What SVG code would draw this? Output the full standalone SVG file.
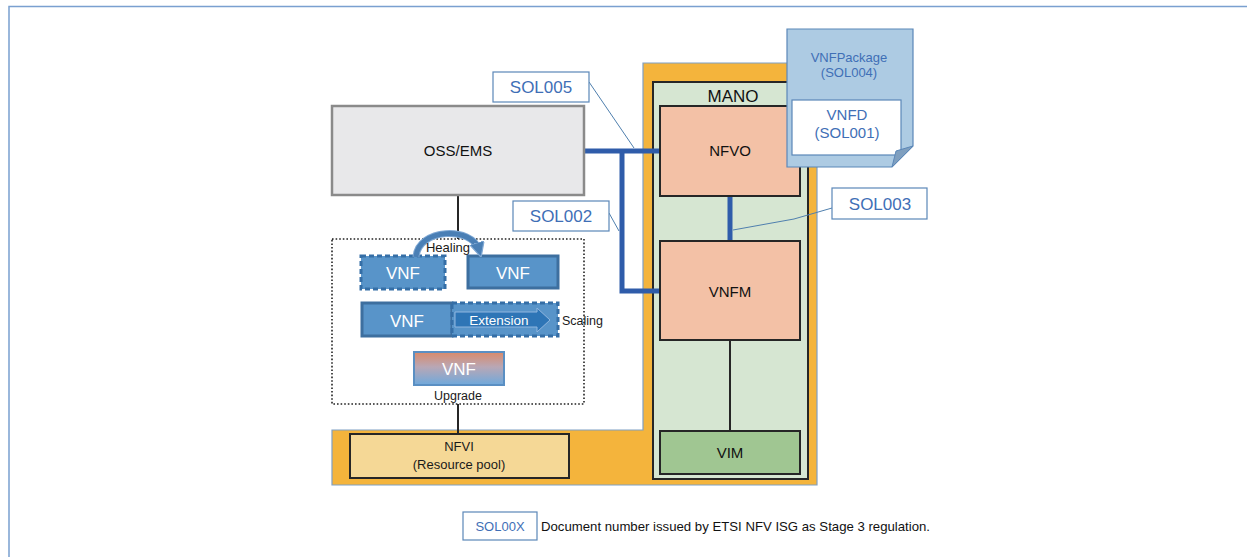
<svg xmlns="http://www.w3.org/2000/svg" width="1247" height="557" viewBox="0 0 1247 557">
<defs>
<linearGradient id="upg" x1="0" y1="0" x2="0" y2="1">
<stop offset="0" stop-color="#d98a6a"/>
<stop offset="0.45" stop-color="#b9a7b5"/>
<stop offset="1" stop-color="#6fa9dc"/>
</linearGradient>
<marker id="heal" viewBox="0 0 10 10" refX="5" refY="5" markerWidth="3" markerHeight="3" orient="auto" markerUnits="strokeWidth">
<path d="M0,0 L10,5 L0,10 z" fill="#4a7fb5" stroke="#7fa8d4" stroke-width="0.8"/>
</marker>
<style>
text{font-family:"Liberation Sans",Arial,sans-serif;}
.blk{stroke:#262626;stroke-width:2;}
.sol{fill:#ffffff;stroke:#5b87b8;stroke-width:1.2;}
.soltx{fill:#3f6fb6;font-size:17px;text-anchor:middle;}
.vnf{fill:#5894c9;stroke:#3d6f9f;stroke-width:3;}
.vnfd{fill:#5894c9;stroke:#356ea6;stroke-width:3;stroke-dasharray:5,3;}
.vnftx{fill:#ffffff;font-size:17px;text-anchor:middle;}
.lbl{fill:#1a1a1a;font-size:12.5px;text-anchor:middle;}
.bus{stroke:#2f5caa;stroke-width:5;fill:none;}
.lead{stroke:#4f7fae;stroke-width:1;fill:none;}
.node{font-size:15px;fill:#111;text-anchor:middle;}
</style>
</defs>
<rect width="1247" height="557" fill="#ffffff"/>
<path d="M9,560 L9,6.5 L1250,6.5" fill="none" stroke="#7aa0d0" stroke-width="1.5"/>

<g id="infra">
<path d="M643,63 L817,63 L817,485 L332,485 L332,430 L643,430 Z" fill="#f4b43c" stroke="#7f9fc4" stroke-width="1.2"/>
</g>

<g id="mano">
<rect x="653" y="82" width="155" height="397" fill="#d6e6d2" class="blk"/>
<text x="733" y="102" style="font-size:17px;fill:#111;text-anchor:middle">MANO</text>
</g>

<g id="connectors">
<path class="bus" d="M584,151 L660,151"/>
<path class="bus" d="M622,151 L622,291 L660,291"/>
<path class="bus" d="M730,196 L730,241"/>
<path d="M730,340 L730,431" stroke="#262626" stroke-width="2"/>
<path d="M458,195 L458,239" stroke="#262626" stroke-width="2"/>
<path d="M458,404 L458,435" stroke="#262626" stroke-width="2"/>
<path class="lead" d="M589,82 L634,148"/>
<path class="lead" d="M609,213 L619,231"/>
<path class="lead" d="M832,208 L794,219 L733,230"/>
</g>

<g id="oss">
<rect x="332" y="106" width="252" height="89" fill="#e8e8ea" stroke="#8a8a8a" stroke-width="2.5"/>
<text x="458" y="156" class="node">OSS/EMS</text>
</g>

<g id="nfvo">
<rect x="660" y="106" width="140" height="90" fill="#f3c1a6" class="blk"/>
<text x="730" y="156" class="node">NFVO</text>
</g>

<g id="vnfm">
<rect x="660" y="241" width="140" height="99" fill="#f3c1a6" class="blk"/>
<text x="730" y="297" class="node">VNFM</text>
</g>

<g id="vim">
<rect x="660" y="431" width="140" height="43" fill="#a0c692" class="blk"/>
<text x="730" y="458" class="node">VIM</text>
</g>

<g id="nfvi">
<rect x="350" y="434" width="219" height="44" fill="#f5d896" class="blk"/>
<text x="459" y="451" style="font-size:13px;fill:#1a1a1a;text-anchor:middle">NFVI</text>
<text x="459" y="469" style="font-size:13px;fill:#1a1a1a;text-anchor:middle">(Resource pool)</text>
</g>

<g id="vnfpackage">
<path d="M787,29 L913,29 L913,146 L892,167 L787,167 Z" fill="#adcbe3" stroke="#5b87b8" stroke-width="1.2"/>
<text x="849" y="62" style="font-size:13px;fill:#3f6fb6;text-anchor:middle">VNFPackage</text>
<text x="849" y="77" style="font-size:13px;fill:#3f6fb6;text-anchor:middle">(SOL004)</text>
<rect x="792" y="100" width="109" height="55" fill="#ffffff" stroke="#5b87b8" stroke-width="1.2"/>
<text x="847" y="120" style="font-size:15px;fill:#3f6fb6;text-anchor:middle">VNFD</text>
<text x="847" y="138" style="font-size:15px;fill:#3f6fb6;text-anchor:middle">(SOL001)</text>
<path d="M892,167 L896,151 L913,146 Z" fill="#7f9fbf" stroke="#5b87b8" stroke-width="1"/>
</g>

<g id="sol005">
<rect x="493" y="72" width="96" height="30" class="sol"/>
<text x="541" y="93" class="soltx">SOL005</text>
</g>
<g id="sol002">
<rect x="513" y="201" width="96" height="30" class="sol"/>
<text x="561" y="222" class="soltx">SOL002</text>
</g>
<g id="sol003">
<rect x="832" y="188" width="95" height="31" class="sol"/>
<text x="880" y="210" class="soltx">SOL003</text>
</g>

<g id="lifecycle">
<rect x="332" y="239" width="252" height="165" fill="none" stroke="#222" stroke-width="1.6" stroke-dasharray="1.6,2"/>
</g>

<g id="vnf-healing-src">
<rect x="361" y="256" width="84" height="33" class="vnfd"/>
<text x="403" y="279" class="vnftx">VNF</text>
</g>
<g id="vnf-healing-dst">
<rect x="468" y="256" width="90" height="32" class="vnf"/>
<text x="513" y="279" class="vnftx">VNF</text>
</g>
<g id="healing">
<path d="M416,257 C418,228 472,226 479,250" fill="none" stroke="#7fa8d4" stroke-width="7"/>
<path d="M416,257 C418,228 472,226 479,250" fill="none" stroke="#4a7fb5" stroke-width="5" marker-end="url(#heal)"/>
<text x="448" y="252" style="font-size:13px;fill:#1a1a1a;text-anchor:middle">Healing</text>
</g>

<g id="vnf-scaling">
<rect x="362" y="303" width="90" height="33" class="vnf"/>
<text x="407" y="327" class="vnftx">VNF</text>
<rect x="452" y="303" width="106" height="33" class="vnfd"/>
<path d="M455,312 L537,312 L537,308 L550,320 L537,332 L537,327 L455,327 Z" fill="#2e75b6" stroke="#8fb6df" stroke-width="1"/>
<text x="499" y="325" style="font-size:13.5px;fill:#ffffff;text-anchor:middle">Extension</text>
<text x="562" y="325" style="font-size:12.5px;fill:#1a1a1a">Scaling</text>
</g>

<g id="vnf-upgrade">
<rect x="414" y="352" width="90" height="33" fill="url(#upg)" stroke="#5a8fc3" stroke-width="2"/>
<text x="459" y="375" class="vnftx">VNF</text>
<text x="458" y="400" class="lbl">Upgrade</text>
</g>

<g id="legend">
<rect x="463" y="512" width="74" height="28" class="sol"/>
<text x="500" y="531" style="font-size:13px;fill:#3f6fb6;text-anchor:middle">SOL00X</text>
<text x="541" y="531" style="font-size:13px;fill:#111" textLength="389" lengthAdjust="spacingAndGlyphs">Document number issued by ETSI NFV ISG as Stage 3 regulation.</text>
</g>
</svg>
